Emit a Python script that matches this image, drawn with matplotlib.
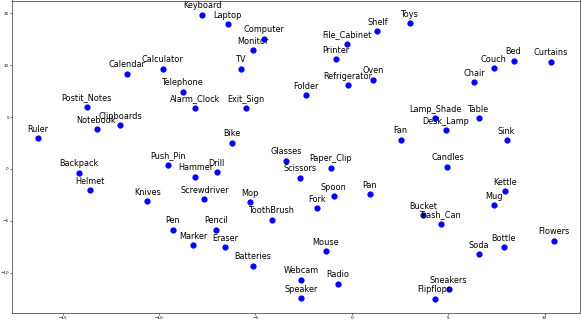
import matplotlib
matplotlib.use("Agg")
import matplotlib.pyplot as plt

words = ['Keyboard', 'Laptop', 'Computer', 'Monitor', 'TV', 'Calendar', 'Calculator',
         'Telephone', 'Alarm_Clock', 'Exit_Sign', 'Postit_Notes', 'Notebook', 'Clipboards',
         'Ruler', 'Backpack', 'Helmet', 'Knives', 'Push_Pin', 'Hammer', 'Drill',
         'Screwdriver', 'Bike', 'Glasses', 'Paper_Clip', 'Scissors', 'Mop', 'ToothBrush',
         'Spoon', 'Pan', 'Fork', 'Pen', 'Pencil', 'Marker', 'Eraser', 'Batteries', 'Mouse',
         'Webcam', 'Radio', 'Speaker', 'Folder', 'File_Cabinet', 'Printer', 'Refrigerator',
         'Oven', 'Shelf', 'Toys', 'Couch', 'Bed', 'Curtains', 'Chair', 'Lamp_Shade',
         'Desk_Lamp', 'Table', 'Fan', 'Sink', 'Candles', 'Kettle', 'Mug', 'Bucket',
         'Trash_Can', 'Soda', 'Bottle', 'Flowers', 'Sneakers', 'Flipflops']

xs = [-7.75, -6.44, -4.56, -5.13, -5.75, -11.67, -9.81,
      -8.77, -8.11, -5.49, -13.75, -13.24, -12.00,
      -16.27, -14.16, -13.59, -10.60, -9.55, -8.11, -7.01,
      -7.65, -6.22, -3.40, -1.09, -2.66, -5.28, -4.15,
      -0.93, 0.92, -1.78, -9.29, -7.03, -8.24, -6.56, -5.13, -1.35,
      -2.64, -0.74, -2.61, -2.38, -0.26, -0.84, -0.19,
      1.09, 1.33, 3.00, 7.36, 8.39, 10.31, 6.36, 4.34,
      4.87, 6.60, 2.54, 8.03, 4.96, 7.93, 7.39, 3.70,
      4.63, 6.60, 7.88, 10.50, 5.03, 4.30]

ys = [14.88, 13.98, 12.54, 11.44, 9.65, 9.20, 9.68,
      7.47, 5.90, 5.87, 6.00, 3.82, 4.20,
      2.95, -0.38, -2.05, -3.14, 0.42, -0.77, -0.32,
      -2.94, 2.50, 0.81, 0.10, -0.87, -3.23, -4.90,
      -2.63, -2.46, -3.81, -5.87, -5.87, -7.37, -7.56, -9.33, -7.94,
      -10.67, -11.06, -12.50, 7.09, 12.06, 10.58, 8.05,
      8.60, 13.27, 14.04, 9.71, 10.42, 10.33, 8.34, 4.90,
      3.75, 4.90, 2.83, 2.76, 0.23, -2.14, -3.52, -4.48,
      -5.29, -8.23, -7.56, -6.92, -11.60, -12.53]

fig = plt.figure(figsize=(5.81, 3.21), dpi=100)
ax = fig.add_axes([12.3 / 581, 8 / 321, (580 - 12.3) / 581, (312.5) / 321])

ax.scatter(xs, ys, c='blue', s=12, zorder=3)
for w, x, y in zip(words, xs, ys):
  ax.annotate(w, (x, y), textcoords='offset points', xytext=(0, 4.7),
              ha='center', va='baseline', fontsize=5.9, color='black')

ax.tick_params(labelsize=3, length=1.5, width=0.4, pad=1)
for s in ax.spines.values():
  s.set_linewidth(0.6)
  s.set_color('#555555')

fig.savefig('out.png', dpi=100)
